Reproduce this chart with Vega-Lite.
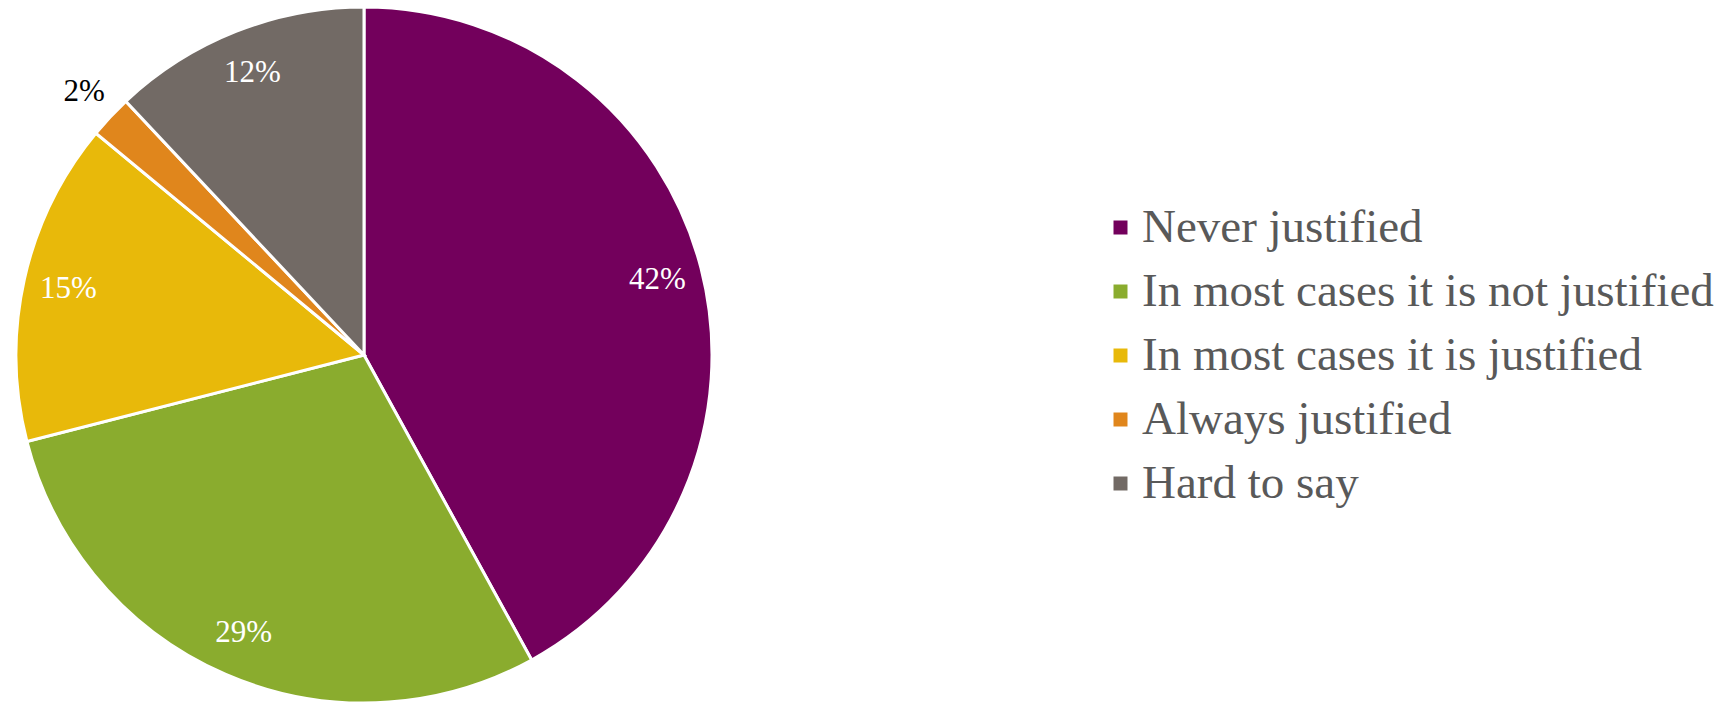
{
  "$schema": "https://vega.github.io/schema/vega-lite/v6.json",
  "width": 728,
  "height": 694,
  "padding": {"left": 0, "top": 8, "right": 1001, "bottom": 0},
  "autosize": {"type": "none"},
  "background": "white",
  "config": {"view": {"stroke": null}},
  "data": {
    "values": [
      {"idx": 1, "answer": "Never justified", "pct": 42, "label": "42%"},
      {"idx": 2, "answer": "In most cases it is not justified", "pct": 29, "label": "29%"},
      {"idx": 3, "answer": "In most cases it is justified", "pct": 15, "label": "15%"},
      {"idx": 4, "answer": "Always justified", "pct": 2, "label": "2%"},
      {"idx": 5, "answer": "Hard to say", "pct": 12, "label": "12%"}
    ]
  },
  "encoding": {
    "theta": {"field": "pct", "type": "quantitative", "stack": true},
    "order": {"field": "idx", "type": "quantitative"}
  },
  "layer": [
    {
      "mark": {"type": "arc", "outerRadius": 348, "stroke": "white", "strokeWidth": 3},
      "encoding": {
        "color": {
          "field": "answer",
          "type": "nominal",
          "sort": null,
          "scale": {
            "domain": ["Never justified", "In most cases it is not justified", "In most cases it is justified", "Always justified", "Hard to say"],
            "range": ["#73005C", "#8AAC2E", "#E8B90A", "#E0861C", "#726A65"]
          },
          "legend": {
            "title": null,
            "orient": "none",
            "legendX": 1097,
            "legendY": 196,
            "symbolType": "square",
            "symbolSize": 196,
            "symbolStrokeWidth": 0,
            "labelFont": "Liberation Serif",
            "labelFontSize": 47,
            "labelColor": "#595959",
            "labelOffset": -2,
            "labelLimit": 700,
            "rowPadding": 16,
            "padding": 0
          }
        }
      }
    },
    {
      "mark": {"type": "text", "radius": 303, "font": "Liberation Serif", "fontSize": 31, "color": "white"},
      "encoding": {
        "text": {"field": "label", "type": "nominal"},
        "opacity": {"condition": {"test": "datum.pct < 5", "value": 0}, "value": 1}
      }
    },
    {
      "mark": {"type": "text", "radius": 384, "font": "Liberation Serif", "fontSize": 31, "color": "black"},
      "encoding": {
        "text": {"field": "label", "type": "nominal"},
        "opacity": {"condition": {"test": "datum.pct < 5", "value": 1}, "value": 0}
      }
    }
  ]
}
